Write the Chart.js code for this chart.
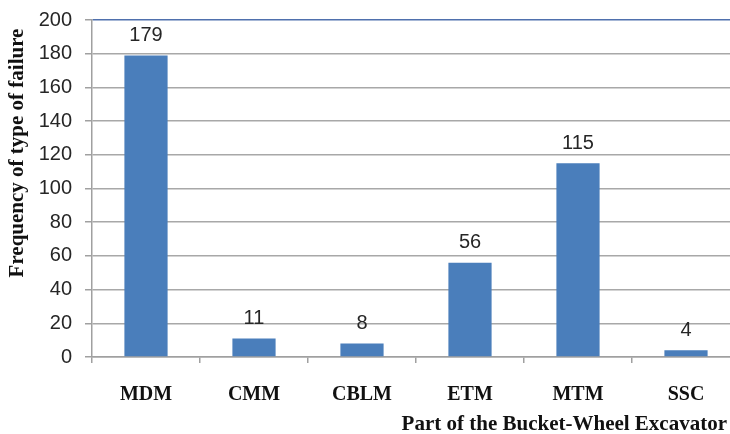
<!DOCTYPE html>
<html>
<head>
<meta charset="utf-8">
<style>
  html, body { margin: 0; padding: 0; background: #fff; overflow: hidden; }
  #wrap { width: 740px; height: 434px; }
</style>
<script src="https://cdn.jsdelivr.net/npm/chart.js@4/dist/chart.umd.min.js"></script>
</head>
<body>
<div id="wrap"><canvas id="c" width="740" height="434"></canvas></div>
<script>
// Failure counts per excavator part
const categories = ['MDM', 'CMM', 'CBLM', 'ETM', 'MTM', 'SSC'];
const failures = [179, 11, 8, 56, 115, 4];
const yTicks = [0, 20, 40, 60, 80, 100, 120, 140, 160, 180, 200];

const xTitle = 'Part of the Bucket-Wheel Excavator';
const yTitle = 'Frequency of type of failure';

const numFont = '20px "Liberation Sans", Arial, sans-serif';
const serifBold = '"Liberation Serif", "Times New Roman", serif';

// Value labels above the bars
const valueLabels = {
  id: 'valueLabels',
  afterDatasetsDraw(chart) {
    const ctx = chart.ctx;
    const meta = chart.getDatasetMeta(0);
    ctx.save();
    ctx.font = numFont;
    ctx.fillStyle = '#262626';
    ctx.textAlign = 'center';
    ctx.textBaseline = 'middle';
    meta.data.forEach((bar, i) => {
      ctx.fillText(String(failures[i]), bar.x, bar.y - 20);
    });
    ctx.restore();
  }
};

// Axis titles
const axisTitles = {
  id: 'axisTitles',
  afterDraw(chart) {
    const ctx = chart.ctx;
    ctx.save();
    ctx.fillStyle = '#111';
    ctx.font = 'bold 21px ' + serifBold;
    ctx.textAlign = 'right';
    ctx.textBaseline = 'middle';
    ctx.fillText(xTitle, 727, 425);
    ctx.translate(18, 153);
    ctx.rotate(-Math.PI / 2);
    ctx.textAlign = 'center';
    ctx.fillText(yTitle, 0, 0);
    ctx.restore();
  }
};

new Chart(document.getElementById('c'), {
  type: 'bar',
  data: {
    labels: categories,
    datasets: [{
      data: failures,
      backgroundColor: '#4a7ebb',
      borderWidth: 0,
      barPercentage: 0.4,
      categoryPercentage: 1.0
    }]
  },
  options: {
    responsive: false,
    animation: false,
    events: [],
    layout: { padding: { top: 20, left: 0, right: 0, bottom: 0 } },
    plugins: {
      legend: { display: false },
      tooltip: { enabled: false },
      title: { display: false }
    },
    scales: {
      x: {
        offset: true,
        afterFit(scale) { scale.height = 77; },
        grid: {
          offset: true,
          drawOnChartArea: false,
          drawTicks: true,
          tickLength: 6,
          tickColor: '#a0a0a0',
          lineWidth: 1.5
        },
        border: { display: true, color: '#a0a0a0', width: 1.5 },
        ticks: {
          color: '#111',
          padding: 20,
          font: { family: serifBold, size: 20, weight: 'bold' }
        }
      },
      y: {
        min: 0,
        max: 200,
        afterFit(scale) {
          scale.width = 92;
          scale.paddingTop = 0;
          scale.paddingBottom = 0;
        },
        afterBuildTicks(scale) { scale.ticks = yTicks.map(v => ({ value: v })); },
        grid: {
          color: ctx => (ctx.tick && ctx.tick.value === 200) ? '#4f70ad' : '#a8a8a8',
          lineWidth: 1.5,
          drawTicks: true,
          tickLength: 7,
          tickColor: '#a0a0a0'
        },
        border: { display: true, color: '#a0a0a0', width: 1.5 },
        ticks: {
          color: '#262626',
          padding: 13,
          font: { family: '"Liberation Sans", Arial, sans-serif', size: 20 }
        }
      }
    }
  },
  plugins: [valueLabels, axisTitles]
});
</script>
</body>
</html>
